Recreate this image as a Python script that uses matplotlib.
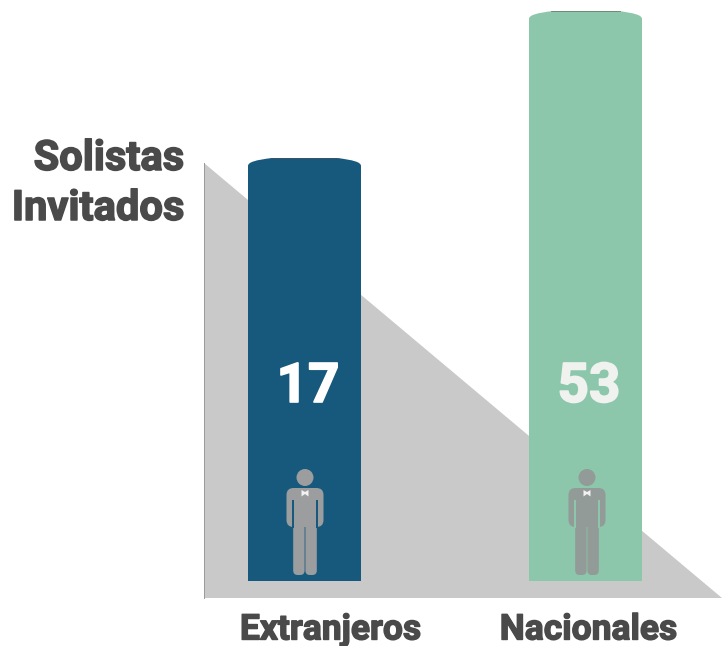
import matplotlib
matplotlib.use("Agg")
import matplotlib.pyplot as plt
import matplotlib.patheffects as pe
from matplotlib.patches import Polygon, Circle, FancyBboxPatch, PathPatch, Rectangle
from matplotlib.path import Path

plt.rcParams['font.family'] = ['Roboto', 'DejaVu Sans']

categories = ["Extranjeros", "Nacionales"]
shown_values = [17, 53]
# drawn heights are not proportional to the labels in the original
bar_heights = [423, 570]
bar_colors = ["#17597d", "#8cc7ab"]
value_colors = ["#ffffff", "#f0f2f0"]
person_colors = ["#9c9d9f", "#929b97"]
bar_centers = [304.5, 585.5]
title_lines = ["Solistas", "Invitados"]

BASE = 65
BAR_W = 113
TEXT_C = "#4a4a4a"


def bar_path(x0, x1, y0, y1):
    # flat bottom, soft elliptical shoulders at the top
    verts = [(x0, y0), (x0, y1 - 8), (x0, y1 - 4), (x0 + 8, y1 - 2), (x0 + 24, y1),
             (x1 - 24, y1), (x1 - 8, y1 - 2), (x1, y1 - 4), (x1, y1 - 8), (x1, y0), (x0, y0)]
    codes = [Path.MOVETO, Path.LINETO, Path.CURVE4, Path.CURVE4, Path.CURVE4,
             Path.LINETO, Path.CURVE4, Path.CURVE4, Path.CURVE4, Path.LINETO, Path.CLOSEPOLY]
    return Path(verts, codes)


def heavy(color, w):
    return [pe.withStroke(linewidth=w, foreground=color)]


fig = plt.figure(figsize=(7.22, 6.46), dpi=100)
ax = fig.add_axes([0, 0, 1, 1])
ax.set_xlim(0, 722)
ax.set_ylim(0, 646)
ax.axis("off")

ax.add_patch(Polygon([(204, 483), (204, 48), (722, 48)], closed=True, fc="#c9c9c9", ec="none", zorder=1))
ax.plot([204, 204], [48, 483], color="#9a9a9a", lw=0.7, zorder=2)

for i, cat in enumerate(categories):
    c = bar_centers[i]
    x0 = c - BAR_W / 2
    x1 = c + BAR_W / 2
    y1 = BASE + bar_heights[i]
    ax.add_patch(PathPatch(bar_path(x0, x1, BASE, y1), fc=bar_colors[i], ec="none", zorder=3))
    ax.plot([x0 + 22, x1 - 22], [y1, y1], color="#555555", lw=0.7, alpha=0.55, zorder=4)

    ax.text(c + 3.5, 646 - 387, str(shown_values[i]), ha="center", va="center", fontsize=39.5,
            fontweight="bold", color=value_colors[i], zorder=6,
            path_effects=heavy(value_colors[i], 1.2))

    # person pictogram
    px = c + 0.5 if i == 0 else c + 1.5
    col = person_colors[i]
    ax.add_patch(Circle((px, 646 - 477.5), 8.5, fc=col, ec="none", zorder=5))
    ax.add_patch(FancyBboxPatch((px - 18.5, 646 - 527), 37, 39, boxstyle="round,pad=0,rounding_size=7",
                                fc=col, ec="none", zorder=5))
    for s in (-1, 1):
        ax.add_patch(Rectangle((px + s * 12 - 0.6, 646 - 528), 1.2, 28, fc=bar_colors[i], ec="none", zorder=5.5))
        leg_x = px - 11.8 if s < 0 else px + 0.4
        ax.add_patch(FancyBboxPatch((leg_x, 646 - 575), 11.4, 55, boxstyle="round,pad=0,rounding_size=4.5",
                                    fc=col, ec="none", zorder=5))
    ax.add_patch(Polygon([(px - 3.5, 646 - 490), (px - 3.5, 646 - 496.5), (px, 646 - 494),
                          (px + 3.5, 646 - 496.5), (px + 3.5, 646 - 490), (px, 646 - 492)],
                         closed=True, fc="#f2f2f2", ec="none", zorder=6))

    ax.text([330.5, 588.5][i], 646 - 630, cat, ha="center", va="center", fontsize=25.5,
            fontweight="bold", color=TEXT_C, zorder=6, path_effects=heavy(TEXT_C, 1.0))

ax.text(184, 646 - 158.5, title_lines[0], ha="right", va="center", fontsize=30,
        fontweight="bold", color=TEXT_C, path_effects=heavy(TEXT_C, 1.1))
ax.text(184, 646 - 208.5, title_lines[1], ha="right", va="center", fontsize=30,
        fontweight="bold", color=TEXT_C, path_effects=heavy(TEXT_C, 1.1))

fig.savefig("out.png", dpi=100)
